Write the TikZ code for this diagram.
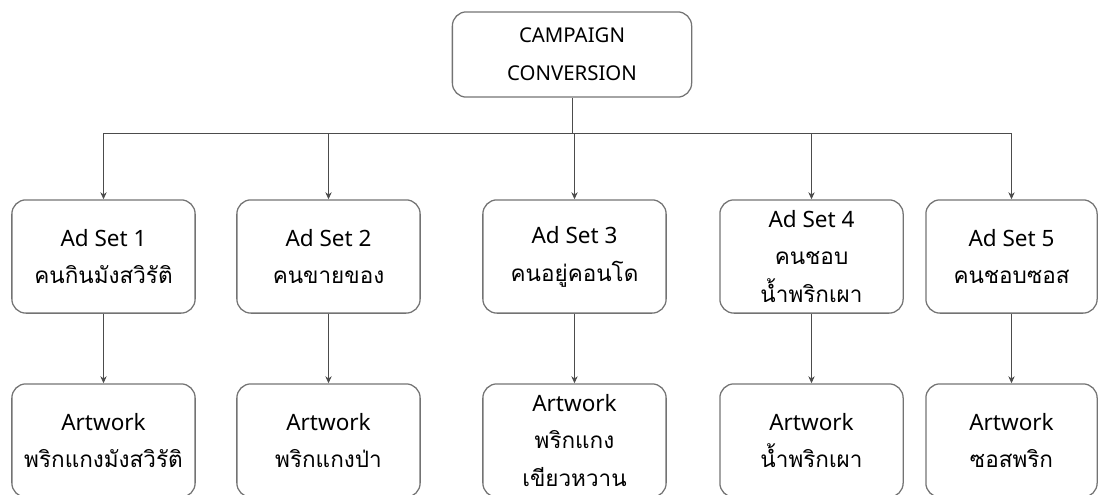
\documentclass[tikz,border=0pt]{standalone}
\usepackage{fontspec}
\setmainfont{Noto Sans}
\newfontfamily\thaifont[Script=Thai]{Loma}
\usetikzlibrary{arrows.meta}
\tikzset{%
  box/.style    = {shape=rectangle, rounded corners=10pt,%
                   draw=black!55, line width=0.9pt, align=center,%
                   inner sep=0pt, font=\fontsize{16}{27}\selectfont},%
  root/.style   = {box, minimum width=5.98cm, minimum height=2.13cm,%
                   font=\fontsize{14.5}{27}\selectfont},%
  adset/.style  = {box, minimum width=4.58cm, minimum height=2.83cm},%
  link/.style   = {draw=black!70, line width=0.7pt},%
  arr/.style    = {link, -{Stealth[length=5pt,width=4.5pt]}}%
}
\begin{document}
\begin{tikzpicture}[x=0.025cm,y=-0.025cm]
	\useasboundingbox (0,0) rectangle (1098,494);
	\clip (0,0) rectangle (1098,494);
	\node[root] (camp) at (572,54.5) {CAMPAIGN\\CONVERSION};
	\node[adset] (as1) at (103.5,256.5) {Ad Set 1\\{\thaifont คนกินมังสวิรัติ}};
	\node[adset] (as2) at (328.5,256.5) {Ad Set 2\\{\thaifont คนขายของ}};
	\node[adset] (as3) at (574.5,256.5) {Ad Set 3\\{\thaifont คนอยู่คอนโด}};
	\node[adset] (as4) at (811.5,256.5) {Ad Set 4\\{\thaifont คนชอบ}\\{\thaifont น้ำพริกเผา}};
	\node[adset, minimum width=4.28cm] (as5) at (1011.5,256.5) {Ad Set 5\\{\thaifont คนชอบซอส}};
	\node[adset] (aw1) at (103.5,440.5) {Artwork\\{\thaifont พริกแกงมังสวิรัติ}};
	\node[adset] (aw2) at (328.5,440.5) {Artwork\\{\thaifont พริกแกงป่า}};
	\node[adset] (aw3) at (574.5,440.5) {Artwork\\{\thaifont พริกแกง}\\{\thaifont เขียวหวาน}};
	\node[adset] (aw4) at (811.5,440.5) {Artwork\\{\thaifont น้ำพริกเผา}};
	\node[adset, minimum width=4.28cm] (aw5) at (1011.5,440.5) {Artwork\\{\thaifont ซอสพริก}};
	\coordinate (bus) at (572,133);
	\draw[link] (camp.south) -- (bus);
	\draw[link] (as1 |- bus) -- (as5 |- bus);
	\foreach \i in {1,...,5}{
		\draw[arr] (as\i |- bus) -- (as\i.north);
		\draw[arr] (as\i.south) -- (aw\i.north);
	}
\end{tikzpicture}
\end{document}
